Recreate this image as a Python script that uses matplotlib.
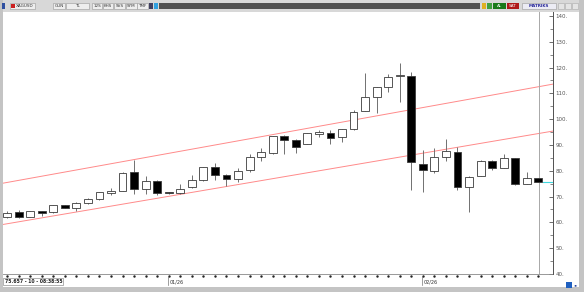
import matplotlib
matplotlib.use("Agg")
import matplotlib.pyplot as plt
from matplotlib.patches import Rectangle
from matplotlib.transforms import blended_transform_factory

# XAGUSD daily candles
opens = [62.0, 64.0, 62.2, 64.3, 64.2, 66.6, 65.5, 67.4, 69.0, 71.3,
         72.3, 79.4, 72.8, 76.2, 71.7, 71.3, 73.6, 76.3, 81.4, 78.5,
         77.0, 80.3, 85.5, 86.8, 93.5, 92.0, 90.4, 94.1, 94.5, 93.0,
         96.2, 103.3, 108.5, 112.4, 116.6, 116.7, 82.5, 79.8, 85.2, 87.4,
         73.8, 78.0, 83.9, 81.2, 84.8, 74.9, 77.1]
highs = [64.3, 64.8, 64.5, 64.5, 66.8, 66.8, 67.8, 69.3, 71.8, 73.3,
         79.5, 84.2, 78.1, 76.5, 71.8, 74.9, 78.4, 81.5, 82.9, 78.7,
         81.0, 86.4, 89.0, 93.6, 93.8, 92.3, 94.7, 96.0, 95.7, 96.2,
         103.6, 117.8, 112.6, 117.5, 121.7, 118.4, 88.0, 89.0, 92.2, 89.4,
         77.9, 84.1, 84.1, 86.4, 85.1, 79.7, 77.3]
lows = [61.6, 61.8, 62.0, 62.5, 63.8, 65.4, 64.4, 67.2, 68.8, 70.6,
        72.0, 71.0, 71.1, 70.8, 71.2, 71.1, 73.3, 76.2, 76.4, 74.1,
        75.5, 79.5, 83.8, 86.6, 86.4, 87.0, 90.2, 93.0, 90.5, 91.3,
        96.0, 103.0, 102.3, 110.7, 106.8, 72.6, 71.9, 79.0, 83.8, 72.6,
        64.1, 77.8, 80.3, 81.0, 74.6, 74.7, 75.5]
closes = [63.8, 62.2, 64.3, 63.7, 66.6, 65.7, 67.5, 69.2, 71.7, 72.3,
          79.0, 72.8, 76.2, 71.3, 71.4, 72.8, 76.3, 81.4, 78.3, 77.0,
          80.0, 85.5, 87.2, 93.5, 92.0, 89.3, 94.5, 94.9, 92.8, 96.1,
          102.7, 108.5, 112.4, 116.5, 117.2, 83.3, 80.3, 85.2, 87.8, 73.8,
          77.7, 83.9, 81.2, 84.8, 74.7, 77.1, 75.66]

last_price = 75.657
status_text = "75.657 - 10 - 08:38:55"
month_labels = ["01/26", "02/26"]
month_starts = [14, 36]

# trend channel, (candle index, price) at both ends
upper_x = [-0.35, 47.27]
upper_y = [75.2, 113.6]
lower_x = [-0.35, 47.27]
lower_y = [59.2, 95.4]

price_ticks = [40, 50, 60, 70, 80, 90, 100, 110, 120, 130, 140]
toolbar_items = ["GUN", "TL", "12S", "KHS", "SVS", "SYM", "TMF"]

W, H = 584, 292
fig = plt.figure(figsize=(W / 100, H / 100), dpi=100)
fig.patch.set_facecolor("white")

ax = fig.add_axes([3 / W, 18 / H, 550 / W, 262 / H])
ax.set_xlim(-0.35, 47.27)
ax.set_ylim(40.0, 141.55)

n = len(opens)
for i in range(n):
    o, h, l, c = opens[i], highs[i], lows[i], closes[i]
    up = c >= o
    ax.vlines(i, l, h, color="#707070", lw=0.7, zorder=2)
    bottom = min(o, c)
    height = max(abs(c - o), 0.45)
    ax.add_patch(Rectangle((i - 0.34, bottom), 0.68, height,
                           facecolor="white" if up else "black",
                           edgecolor="#3a3a3a", lw=0.6, zorder=3))

# channel
ax.plot(upper_x, upper_y, color="#ff8a8a", lw=0.7, zorder=1, clip_on=False)
ax.plot(lower_x, lower_y, color="#ff8a8a", lw=0.7, zorder=1, clip_on=False)

# right margin separator + last price marker
ax.axvline(46.05, color="#a8a8a8", lw=0.7, zorder=1)
ax.plot([46.4, 47.27], [last_price, last_price], color="#40d8e0", lw=0.8, zorder=4)

# y axis on the right
ax.yaxis.tick_right()
ax.set_yticks(price_ticks)
ax.set_yticklabels([f"{t}." for t in price_ticks])
ax.set_yticks(range(45, 141, 10), minor=True)
ax.tick_params(axis="y", which="major", direction="in", length=3, width=0.6,
               pad=2, labelsize=4, colors="#555555")
ax.tick_params(axis="y", which="minor", direction="in", length=2, width=0.5,
               colors="#555555")
ax.set_xticks([])
for side in ["left", "top"]:
    ax.spines[side].set_visible(False)
ax.spines["right"].set_color("#555555")
ax.spines["right"].set_linewidth(0.7)
ax.spines["bottom"].set_color("#888888")
ax.spines["bottom"].set_linewidth(0.6)

# x axis: a dot per candle, month marks
tr = blended_transform_factory(ax.transData, ax.transAxes)
ax.plot(range(n), [-0.008] * n, "s", ms=0.7, color="#222222",
        transform=tr, clip_on=False)
for lab, pos in zip(month_labels, month_starts):
    ax.plot([pos - 0.05, pos - 0.05], [-0.006, -0.042], color="#777777",
            lw=0.5, transform=tr, clip_on=False)
    ax.text(pos + 0.1, -0.03, lab, transform=tr, fontsize=3.5,
            color="#333333", va="center", ha="left")

# window frame / toolbar decorations (pixel coords)
bg = fig.add_axes([0, 0, 1, 1], zorder=5)
bg.set_xlim(0, W)
bg.set_ylim(H, 0)
bg.axis("off")
bg.add_patch(Rectangle((0, 0), W, 12, facecolor="#d8d8d8", edgecolor="none"))
bg.add_patch(Rectangle((0, 0), 3, H, facecolor="#c4c4c4", edgecolor="none"))
bg.add_patch(Rectangle((579, 0), 5, H, facecolor="#c4c4c4", edgecolor="none"))
bg.add_patch(Rectangle((0, 287), W, 5, facecolor="#c4c4c4", edgecolor="none"))
bg.plot([553, 553], [12, 274], color="#555555", lw=0.7)

bg.add_patch(Rectangle((2, 3), 3, 6, facecolor="#3050a0", edgecolor="none"))
bg.add_patch(Rectangle((10, 3), 25, 6, facecolor="#eeeeee", edgecolor="#999999", lw=0.4))
bg.add_patch(Rectangle((11, 4), 4, 4, facecolor="#cc2020", edgecolor="none"))
bg.text(16, 6, "XAGUSD", fontsize=3, color="#333333", va="center")
bx = [53, 66, 92, 103, 114, 126, 137]
bw = [12, 23, 10, 10, 11, 11, 11]
for x0, w0, lab in zip(bx, bw, toolbar_items):
    bg.add_patch(Rectangle((x0, 3), w0, 6, facecolor="#eeeeee",
                           edgecolor="#999999", lw=0.4))
    bg.text(x0 + w0 / 2, 6, lab, fontsize=3, color="#333333",
            ha="center", va="center")
bg.add_patch(Rectangle((149, 3), 4, 6, facecolor="#404060", edgecolor="none"))
bg.add_patch(Rectangle((154, 3), 4, 6, facecolor="#30a0e0", edgecolor="none"))
bg.add_patch(Rectangle((159, 3), 321, 6, facecolor="#505050", edgecolor="none"))
bg.add_patch(Rectangle((482, 3), 4, 6, facecolor="#e0b020", edgecolor="none"))
bg.add_patch(Rectangle((487, 3), 5, 6, facecolor="#40a040", edgecolor="none"))
bg.add_patch(Rectangle((493, 3), 13, 6, facecolor="#1a7a1a", edgecolor="none"))
bg.text(499.5, 6, "AL", fontsize=3, color="white", ha="center", va="center")
bg.add_patch(Rectangle((507, 3), 12, 6, facecolor="#b01818", edgecolor="none"))
bg.text(513, 6, "SAT", fontsize=3, color="white", ha="center", va="center")
bg.add_patch(Rectangle((522, 3), 34, 6, facecolor="#ececf4", edgecolor="#999999", lw=0.4))
bg.text(539, 6, "MATRIKS", fontsize=3, color="#2a2a9a", ha="center",
        va="center", fontweight="bold")
for x0 in [558, 565, 572]:
    bg.add_patch(Rectangle((x0, 3), 6, 6, facecolor="#e4e4e4",
                           edgecolor="#aaaaaa", lw=0.4))

bg.add_patch(Rectangle((3, 278), 60, 7, facecolor="white", edgecolor="#777777", lw=0.4))
bg.text(5, 281.5, status_text, fontsize=3.3, color="#222222", va="center",
        fontweight="bold")
bg.add_patch(Rectangle((566, 282), 6, 6, facecolor="#2060c0", edgecolor="none"))
bg.text(574, 285, "◂▸", fontsize=3, color="#2040a0", va="center")

fig.savefig("out.png", dpi=100, facecolor="white")
